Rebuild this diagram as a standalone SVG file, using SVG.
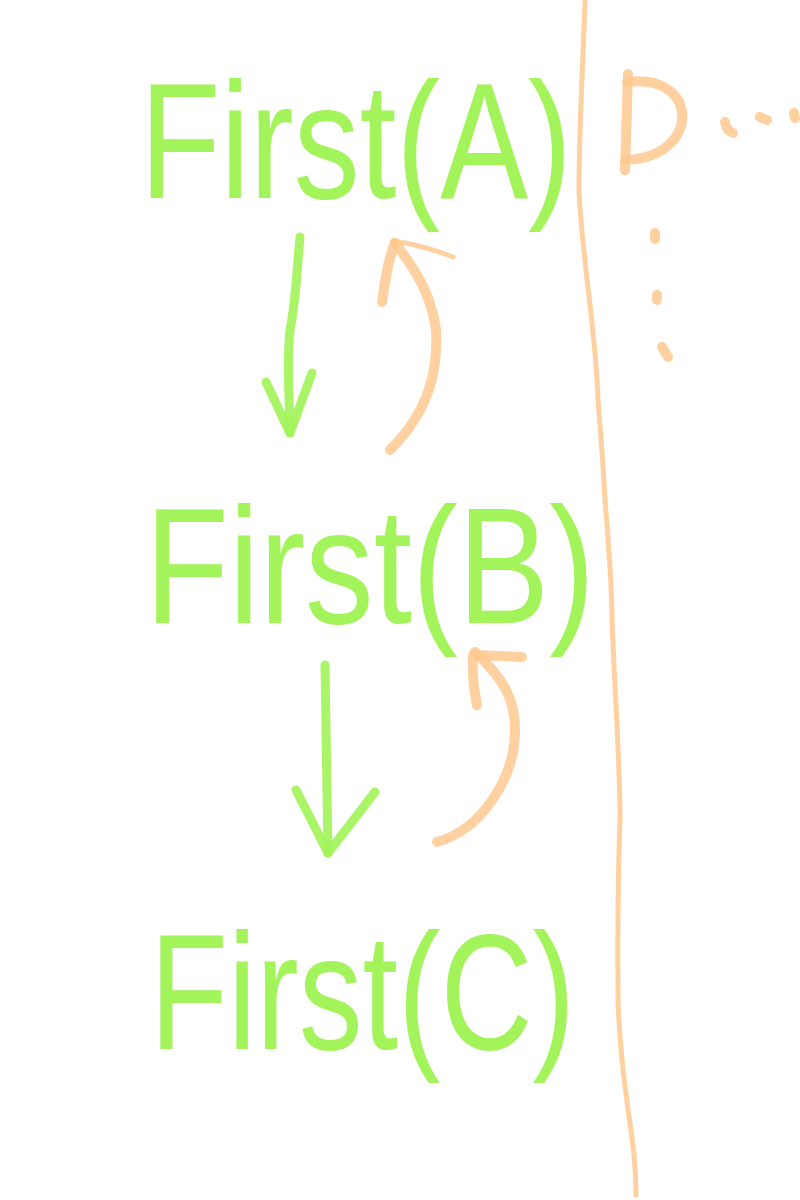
<svg xmlns="http://www.w3.org/2000/svg" width="800" height="1200" viewBox="0 0 800 1200">
<style>
.lbl{font-family:"Liberation Sans","DejaVu Sans",sans-serif;font-size:165px;fill:#a3f35a}
.g{fill:none;stroke:#a3f35a;stroke-opacity:0.92;stroke-width:9;stroke-linecap:round;stroke-linejoin:round}
.o{fill:none;stroke:#ffc98f;stroke-opacity:0.85;stroke-width:10;stroke-linecap:round;stroke-linejoin:round}
.ot{fill:none;stroke:#ffc98f;stroke-opacity:0.85;stroke-width:5;stroke-linecap:round;stroke-linejoin:round}
</style>
<rect width="800" height="1200" fill="#ffffff"/>
<g id="nodeA"><text class="lbl" x="140" y="198" textLength="432" lengthAdjust="spacingAndGlyphs">First(A)</text></g>
<g id="nodeB"><text class="lbl" x="145" y="623" textLength="450" lengthAdjust="spacingAndGlyphs">First(B)</text></g>
<g id="nodeC"><text class="lbl" x="150" y="1049" textLength="425" lengthAdjust="spacingAndGlyphs">First(C)</text></g>
<g id="nodeD">
<path class="o" d="M628,74 L625,170"/>
<path class="o" d="M627,82 C700,72 702,158 625,160"/>
<path class="o" d="M725,122 Q726,130 733,133"/>
<path class="o" d="M760,117 L767,120"/>
<path class="o" d="M794,113 L795,118"/>
<path class="o" d="M655,233 L655,239"/>
<path class="o" d="M657,295 L657,300"/>
<path class="o" d="M662,347 L668,357"/>
</g>
<g id="divider"><path class="ot" d="M585,2 C583,60 579,130 579,190 C582,260 596,330 598,400 C602,450 604,480 605,500 C610,560 612,600 612,620 C615,700 620,760 620,820 C617,900 618,950 618,1000 C620,1060 626,1090 628,1110 C633,1140 636,1170 636,1195"/></g>
<g id="connectors">
<path class="g" d="M300,237 C296,280 296,300 290,330 C286,370 290,400 290,433"/>
<path class="g" d="M266,382 L290,433 L312,373"/>
<path class="g" d="M325,665 L328,853"/>
<path class="g" d="M296,790 L328,853 L375,792"/>
<path class="o" d="M390,450 C430,410 438,370 436,330 C432,300 420,275 395,243"/>
<path class="o" d="M382,302 C385,280 388,260 395,243"/>
<path class="ot" d="M393,241 C415,244 435,250 453,257"/>
<path class="o" d="M437,842 C480,830 515,780 515,730 C515,700 505,680 475,652"/>
<path class="o" d="M477,705 C474,690 472,670 473,655 L522,657"/>
</g>
</svg>
